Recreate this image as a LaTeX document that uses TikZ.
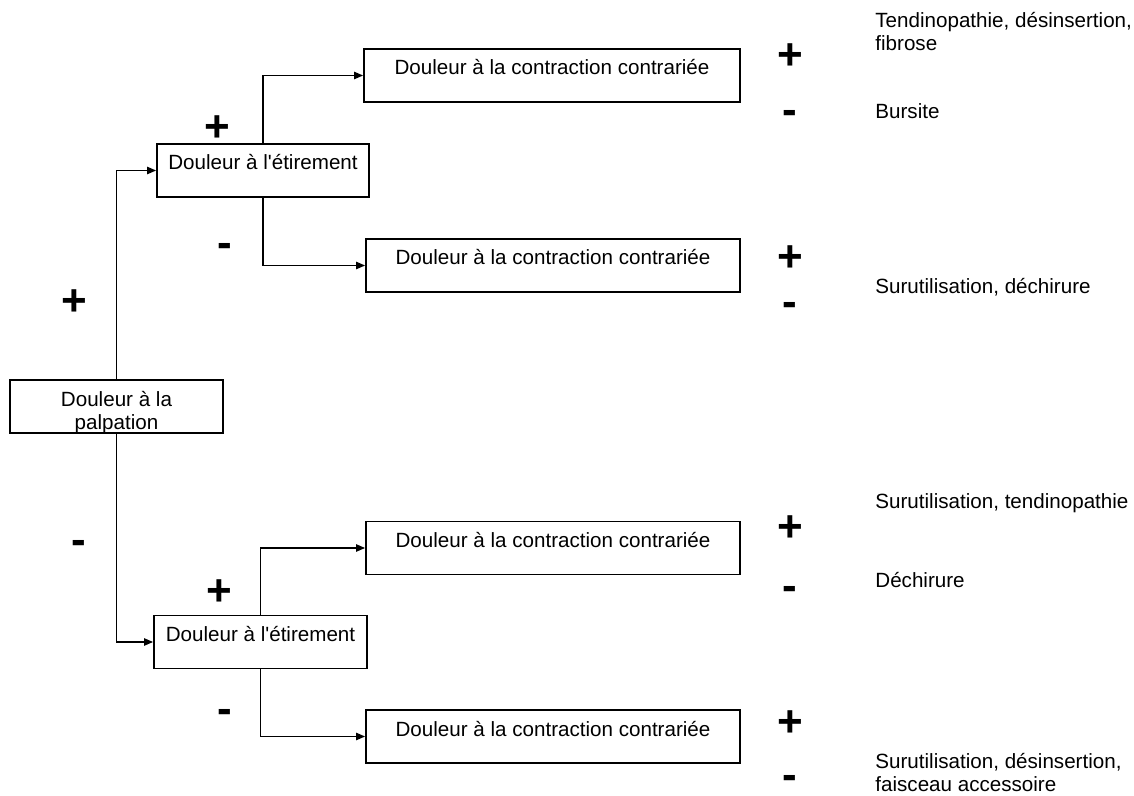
\documentclass[tikz,border=0pt]{standalone}
\usepackage{fontspec}
\setmainfont{Liberation Sans}
\usepackage{tikz}
\usetikzlibrary{arrows.meta}

\begin{document}
\begin{tikzpicture}[x=0.5pt,y=-0.5pt,
            box/.style={draw, line width=0.85pt, inner sep=0pt, minimum height=26.5pt,
                        text height=13pt, text depth=13.5pt,
                        font=\fontsize{10.3}{11.5}\selectfont},
            sign/.style={inner sep=0pt, anchor=base, font=\fontsize{22}{22}\selectfont\bfseries},
            diag/.style={inner sep=0pt, anchor=west, align=left,
                        font=\fontsize{10.3}{11.5}\selectfont},
            link/.style={->, line width=0.85pt},
            >={Triangle[length=4.5pt,width=3.6pt]}]
        \useasboundingbox (0,0) rectangle (1134,796);

        % boites
        \node[box, minimum width=106.5pt, align=center, text height=24.5pt, text depth=2pt]
            (palp) at (116.5,406.5) {Douleur à la\\palpation};
        \node[box, minimum width=106pt] (etirA) at (263,170.5) {Douleur à l\textquotesingle étirement};
        \node[box, minimum width=106.5pt] (etirB) at (260.5,642) {Douleur à l\textquotesingle étirement};
        \node[box, minimum width=188pt] (contrA1) at (552,75.5) {Douleur à la contraction contrariée};
        \node[box, minimum width=187pt] (contrA2) at (553,265.5) {Douleur à la contraction contrariée};
        \node[box, minimum width=187pt] (contrB1) at (553,548) {Douleur à la contraction contrariée};
        \node[box, minimum width=187pt] (contrB2) at (553,736.5) {Douleur à la contraction contrariée};

        % liaisons
        \draw[link] (palp.north) |- (etirA.west);
        \draw[link] (palp.south) |- (etirB.west);
        \draw[link] (etirA.north) |- (contrA1.west);
        \draw[link] (etirA.south) |- (contrA2.west);
        \draw[link] (etirB.north) |- (contrB1.west);
        \draw[link] (etirB.south) |- (contrB2.west);

        % signes
        \node[sign] (palpP) at (74,315.5) {+};
        \node[sign] (palpM) at (79,554) {-};
        \node[sign] (etirAP) at (217,141.5) {+};
        \node[sign] (etirAM) at (225,258) {-};
        \node[sign] (etirBP) at (219,605.5) {+};
        \node[sign] (etirBM) at (225,723) {-};

        \node[sign] (contrA1P) at (790,69.5) {+};
        \node[sign] (contrA1M) at (790,125) {-};
        \node[sign] (contrA2P) at (790,271.5) {+};
        \node[sign] (contrA2M) at (790,317) {-};
        \node[sign] (contrB1P) at (790,541.5) {+};
        \node[sign] (contrB1M) at (790,600) {-};
        \node[sign] (contrB2P) at (790,736.5) {+};
        \node[sign] (contrB2M) at (790,789) {-};

        % diagnostics
        \node[diag] (tendino) at (875,32) {Tendinopathie, désinsertion,\\fibrose};
        \node[diag] (bursite) at (875,111) {Bursite};
        \node[diag] (dechA) at (875,287) {Surutilisation, déchirure};
        \node[diag] (surTend) at (875,503) {Surutilisation, tendinopathie};
        \node[diag] (dechB) at (875,580) {Déchirure};
        \node[diag] (surDes) at (875,773) {Surutilisation, désinsertion,\\faisceau accessoire};
    \end{tikzpicture}
\end{document}
